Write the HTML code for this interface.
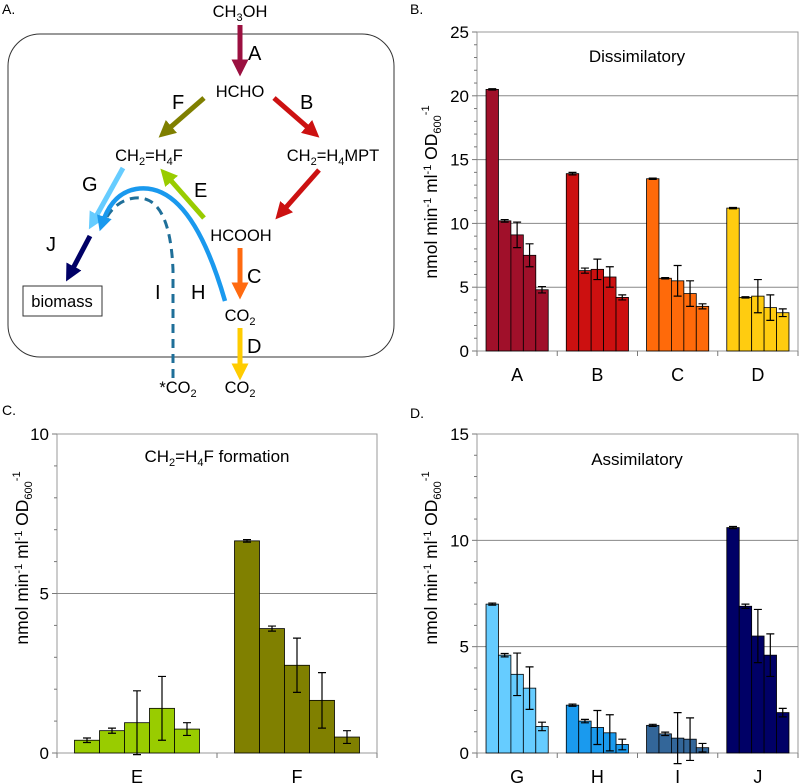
<!DOCTYPE html>
<html><head><meta charset="utf-8"><style>
body{margin:0;background:#fff;}
svg{display:block;font-family:"Liberation Sans",sans-serif;}
</style></head><body>
<svg id="fig" width="800" height="784" viewBox="0 0 800 784">
<defs>
<marker id="ah" viewBox="0 0 10 10" refX="5" refY="5" markerWidth="3.4" markerHeight="3.4" orient="auto-start-reverse"><path d="M0,0 L10,5 L0,10 z" fill="context-stroke"/></marker>
</defs>
<g font-size="16.5">
<text x="2" y="14" font-size="14">A.</text>
<rect x="8" y="34" width="386" height="323" rx="32" fill="none" stroke="#333" stroke-width="1"/>
<text x="240" y="17" text-anchor="middle">CH<tspan font-size="11" dy="4">3</tspan><tspan dy="-4">OH</tspan></text>
<g stroke-width="5" fill="none">
<line x1="240" y1="25" x2="240" y2="68" stroke="#9b1040" marker-end="url(#ah)"/>
<line x1="204" y1="98" x2="165" y2="132" stroke="#7f7f00" marker-end="url(#ah)"/>
<line x1="274" y1="98" x2="313" y2="132" stroke="#cc1111" marker-end="url(#ah)"/>
<line x1="123" y1="168" x2="93" y2="222" stroke="#66ccff" marker-end="url(#ah)"/>
<line x1="204" y1="218" x2="166" y2="175" stroke="#99cc00" marker-end="url(#ah)"/>
<line x1="319" y1="170" x2="281" y2="213" stroke="#cc1111" marker-end="url(#ah)"/>
<line x1="240" y1="248" x2="240" y2="291" stroke="#ff6a10" marker-end="url(#ah)"/>
<line x1="240" y1="328" x2="240" y2="372" stroke="#ffcc00" marker-end="url(#ah)"/>
<line x1="90" y1="236" x2="70" y2="274" stroke="#000066" marker-end="url(#ah)"/>
<path d="M173,378 L173,270 Q170,195 135,198 Q115,200 104,222" stroke="#1f6f99" stroke-width="3" stroke-dasharray="9,6"/>
<path d="M225,301 Q190,180 136,189 Q112,193 102,224" stroke="#1a99ee" stroke-width="4.5" marker-end="url(#ah)"/>
</g>
<g font-size="20">
<text x="248" y="60">A</text>
<text x="172" y="109">F</text>
<text x="300" y="109">B</text>
<text x="82" y="191">G</text>
<text x="194" y="197">E</text>
<text x="247" y="283">C</text>
<text x="247" y="353">D</text>
<text x="46" y="251">J</text>
<text x="155" y="299">I</text>
<text x="191" y="299">H</text>
</g>
<text x="240" y="97" text-anchor="middle">HCHO</text>
<text x="149" y="161" text-anchor="middle">CH<tspan font-size="11" dy="4">2</tspan><tspan dy="-4">=H</tspan><tspan font-size="11" dy="4">4</tspan><tspan dy="-4">F</tspan></text>
<text x="333" y="161" text-anchor="middle">CH<tspan font-size="11" dy="4">2</tspan><tspan dy="-4">=H</tspan><tspan font-size="11" dy="4">4</tspan><tspan dy="-4">MPT</tspan></text>
<text x="241" y="241" text-anchor="middle">HCOOH</text>
<text x="240" y="321" text-anchor="middle">CO<tspan font-size="11" dy="4">2</tspan></text>
<text x="178" y="393" text-anchor="middle">*CO<tspan font-size="11" dy="4">2</tspan></text>
<text x="240" y="393" text-anchor="middle">CO<tspan font-size="11" dy="4">2</tspan></text>
<rect x="23" y="286" width="79" height="30" fill="#fff" stroke="#333"/>
<text x="62" y="307" text-anchor="middle">biomass</text>
</g>
</svg>
<script>
const catsB = ['A','B','C','D'];
const valsB = [[20.5,10.2,9.1,7.5,4.8],[13.9,6.3,6.4,5.8,4.2],[13.5,5.7,5.5,4.5,3.5],[11.2,4.2,4.3,3.4,3.0]];
const errsB = [[0.05,0.1,1.0,0.9,0.25],[0.1,0.2,0.8,0.8,0.2],[0.05,0.05,1.2,1.0,0.2],[0.05,0.05,1.3,1.0,0.3]];
const ticksB = [0,5,10,15,20,25];
const catsC = ['E','F'];
const valsC = [[0.4,0.7,0.95,1.4,0.75],[6.65,3.9,2.75,1.65,0.5]];
const errsC = [[0.07,0.08,1.0,1.0,0.2],[0.04,0.08,0.85,0.87,0.2]];
const ticksC = [0,5,10];
const catsD = ['G','H','I','J'];
const valsD = [[7.0,4.6,3.7,3.05,1.25],[2.25,1.5,1.2,0.95,0.4],[1.3,0.9,0.7,0.65,0.25],[10.6,6.9,5.5,4.6,1.9]];
const errsD = [[0.05,0.08,1.0,1.0,0.2],[0.05,0.08,0.8,0.85,0.25],[0.05,0.08,1.2,1.0,0.2],[0.05,0.1,1.25,1.0,0.2]];
const ticksD = [0,5,10,15];
const colorsB = ['#a0102a','#cc1010','#ff6a0a','#ffcc10'];
const colorsC = ['#99cc00','#808000'];
const colorsD = ['#66ccff','#1a9aee','#336699','#000066'];

const NS='http://www.w3.org/2000/svg';
const svg=document.getElementById('fig');
function mk(tag,attrs,parent){const e=document.createElementNS(NS,tag);for(const k in attrs)e.setAttribute(k,attrs[k]);(parent||svg).appendChild(e);return e;}

function chart(o){
  const g=mk('g',{});
  
  
  const ymax=o.ticks[o.ticks.length-1];
  const y=v=>o.y0-(v/ymax)*(o.y0-o.y1);
  const cw=(o.x1-o.x0)/o.cats.length;
  const bw=cw*o.gw/5;
  const pl=mk('text',{x:o.lx,y:o.ly,'font-size':14},g);pl.textContent=o.panel;
  
  
  const fr=mk('rect',{x:o.x0,y:o.y1,width:o.x1-o.x0,height:o.y0-o.y1,fill:'none',stroke:'#999'},g);
  
  
  o.ticks.forEach(t=>{
    if(t>0&&t<ymax){const gl=mk('line',{x1:o.x0,x2:o.x1,y1:y(t),y2:y(t),stroke:'#888'},g);
      
      }
    const tl=mk('text',{x:o.x0-8,y:y(t)+6,'text-anchor':'end','font-size':17},g);tl.textContent=t;
    
    
  });
  for(let v=0;v<=ymax;v++){const tk=mk('line',{x1:o.x0-(v%5===0?5:3),x2:o.x0,y1:y(v),y2:y(v),stroke:'#777'},g);
    
    }
  for(let i=0;i<=o.cats.length;i++){const tk=mk('line',{x1:o.x0+i*cw,x2:o.x0+i*cw,y1:o.y0,y2:o.y0+5,stroke:'#777'},g);
    
    }
  o.cats.forEach((c,i)=>{
    const gx=o.x0+i*cw+(cw-bw*5)/2;
    o.vals[i].forEach((v,j)=>{
      const bx=gx+j*bw;
      const r=mk('rect',{x:bx,y:y(v),width:bw,height:o.y0-y(v),fill:o.colors[i],stroke:'#000','stroke-width':0.8},g);
      
      
      const e=o.errs[i][j],cx=bx+bw/2;
      const eb=mk('path',{d:`M${cx},${y(v+e)}V${y(v-e)}M${cx-4},${y(v+e)}H${cx+4}M${cx-4},${y(v-e)}H${cx+4}`,stroke:'#000','stroke-width':1.2,fill:'none'},g);
      
      
    });
    const cl=mk('text',{x:o.x0+i*cw+cw/2,y:o.y0+30,'text-anchor':'middle','font-size':18},g);cl.textContent=c;
    
    
  });
  const tt=mk('text',{x:o.tx,y:o.ty,'text-anchor':'middle','font-size':17},g);tt.innerHTML=o.title;
  
  
  const ya=mk('text',{x:0,y:0,'text-anchor':'middle','font-size':17.5,transform:`translate(${o.ax},${o.ay}) rotate(-90)`},g);
  ya.innerHTML='nmol min<tspan font-size="11" dy="-6">-1</tspan><tspan dy="6"> ml</tspan><tspan font-size="11" dy="-6">-1</tspan><tspan dy="6"> OD</tspan><tspan font-size="11" dy="4">600</tspan><tspan font-size="11" dy="-12">-1</tspan>';
  
  
}
chart({name:'chart-dissimilatory',panel:'B.',lx:410,ly:14,x0:477,x1:798,y0:351,y1:32,cats:catsB,vals:valsB,errs:errsB,ticks:ticksB,colors:colorsB,gw:62/80,title:'Dissimilatory',tx:637,ty:62,ax:437,ay:192});
chart({name:'chart-ch2h4f-formation',panel:'C.',lx:2,ly:415,x0:57,x1:377,y0:753,y1:434,cats:catsC,vals:valsC,errs:errsC,ticks:ticksC,colors:colorsC,gw:125/160,title:'CH<tspan font-size="11" dy="4">2</tspan><tspan dy="-4">=H</tspan><tspan font-size="11" dy="4">4</tspan><tspan dy="-4">F formation</tspan>',tx:217,ty:462,ax:28,ay:558});
chart({name:'chart-assimilatory',panel:'D.',lx:410,ly:418,x0:477,x1:798,y0:753,y1:434,cats:catsD,vals:valsD,errs:errsD,ticks:ticksD,colors:colorsD,gw:62/80,title:'Assimilatory',tx:637,ty:465,ax:437,ay:558});
</script>
</body></html>
